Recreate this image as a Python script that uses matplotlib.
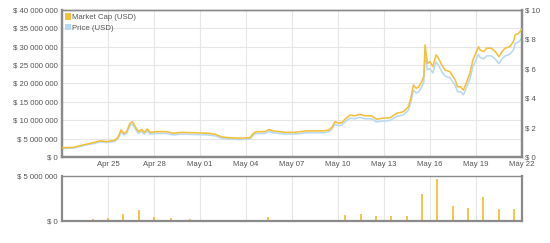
import numpy as np
import matplotlib
matplotlib.use("Agg")
import matplotlib.pyplot as plt
import matplotlib.dates as mdates
from matplotlib.patches import Patch
from matplotlib.ticker import FuncFormatter

plt.rcParams['font.family'] = ['Liberation Sans', 'DejaVu Sans']

START = np.datetime64('2014-04-22T00:00')

# days since Apr 22 00:00
days = [0, 0.74, 1.39, 2.04, 2.48, 2.9, 3.46, 3.67, 3.85, 4.04, 4.22, 4.43, 4.6, 4.76,
        4.98, 5.2, 5.35, 5.57, 5.74, 6.18, 6.83, 7.26, 7.8, 8.68, 9.55, 9.98, 10.4, 10.85,
        11.6, 12.26, 12.48, 12.7, 13.24, 13.5, 13.78, 14.55, 15.2, 15.96, 17.05, 17.37,
        17.6, 17.8, 18.03, 18.24, 18.46, 18.79, 19.1, 19.4, 19.77, 20.2, 20.5, 20.85, 21.4,
        21.83, 22.26, 22.6, 22.75, 22.92, 23.1, 23.25, 23.46, 23.6, 23.68, 23.83, 24.0,
        24.18, 24.4, 24.55, 24.77, 24.98, 25.3, 25.64, 25.8, 26.0, 26.18, 26.4, 26.6, 26.8,
        27.16, 27.27, 27.5, 27.7, 28.0, 28.25, 28.5, 28.7, 28.9, 29.2, 29.45, 29.55, 29.8,
        29.95, 30.0]

# market cap, millions USD
market_cap = [2.55, 2.6, 3.3, 3.9, 4.4, 4.2, 4.6, 5.5, 7.35, 6.45, 6.9, 9.2, 9.6, 8.4,
              6.9, 7.5, 6.7, 7.6, 6.7, 6.9, 6.9, 6.45, 6.7, 6.6, 6.45, 6.2, 5.5, 5.25,
              5.1, 5.25, 6.45, 6.9, 6.9, 7.5, 7.1, 6.7, 6.7, 7.1, 7.1, 7.3,
              8.1, 9.6, 9.2, 9.3, 10.3, 11.4, 11.2, 11.6, 11.2, 11.2, 10.3, 10.5, 10.7,
              11.9, 12.3, 13.7, 16.0, 19.6, 18.7, 19.0, 20.5, 22.0, 30.5, 25.5, 25.9,
              24.6, 27.8, 26.9, 25.0, 23.7, 23.2, 21.0, 19.1, 19.1, 18.2, 20.5, 22.8, 26.4,
              30.0, 29.1, 28.7, 29.6, 29.6, 28.7, 27.3, 28.7, 29.6, 30.0, 31.4, 33.2, 33.7,
              34.6, 34.8]

# price, USD
price = [0.59, 0.60, 0.77, 0.91, 1.02, 0.98, 1.07, 1.28, 1.71, 1.50, 1.60, 2.14, 2.23, 1.95,
         1.60, 1.74, 1.56, 1.77, 1.56, 1.60, 1.60, 1.50, 1.56, 1.53, 1.50, 1.44, 1.28, 1.22,
         1.19, 1.22, 1.50, 1.60, 1.60, 1.74, 1.65, 1.56, 1.56, 1.65, 1.65, 1.70,
         1.88, 2.23, 2.14, 2.16, 2.39, 2.65, 2.60, 2.70, 2.60, 2.60, 2.39, 2.44, 2.49,
         2.77, 2.86, 3.19, 3.72, 4.56, 4.35, 4.42, 4.77, 5.12, 7.09, 5.93, 6.02,
         5.72, 6.46, 6.25, 5.81, 5.51, 5.39, 4.88, 4.44, 4.44, 4.23, 4.77, 5.30, 6.14,
         6.98, 6.77, 6.67, 6.88, 6.88, 6.67, 6.35, 6.67, 6.88, 6.98, 7.30, 7.72, 7.84,
         8.04, 8.09]

# daily volume, millions USD
vol_days = [1, 2, 3, 4, 5, 6, 7.1, 8.35, 9.43, 10.43, 11.43, 12.43, 13.43, 14.43, 15.43,
            16.43, 17.43, 18.48, 19.48, 20.48, 21.48, 22.48, 23.48, 24.48, 25.48, 26.48,
            27.48, 28.48, 29.48]
volume = [0.1, 0.22, 0.37, 0.8, 1.2, 0.48, 0.3, 0.18, 0.07, 0.15, 0.1, 0.1, 0.45, 0.07,
          0.07, 0.1, 0.07, 0.67, 0.78, 0.55, 0.55, 0.55, 3.0, 4.67, 1.7, 1.45, 2.67, 1.37, 1.33]

tick_dates = ['2014-04-25', '2014-04-28', '2014-05-01', '2014-05-04', '2014-05-07',
              '2014-05-10', '2014-05-13', '2014-05-16', '2014-05-19', '2014-05-22']


def to_dates(d):
    return START + (np.array(d) * 24 * 60).astype(int).astype('timedelta64[m]')


ORANGE = '#f2c03c'
BLUE = '#b9d9f2'
GRID = '#e6e6e6'
SPINE = '#8a8a8a'
TXT = '#555555'
FS = 5.6


def money(v, pos):
    return '$ ' + f'{v:,.0f}'.replace(',', ' ')


def style(ax):
    for s in ax.spines.values():
        s.set_color(SPINE)
        s.set_linewidth(1.6)
    ax.spines['top'].set_linewidth(1.0)
    ax.tick_params(length=0, labelsize=FS, labelcolor=TXT, pad=3)


fig = plt.figure(figsize=(5.5, 2.43), dpi=100)
ax = fig.add_axes([62 / 550, 1 - 157 / 243, 460 / 550, 147 / 243])
ax2 = ax.twinx()
axv = fig.add_axes([62 / 550, 1 - 221 / 243, 460 / 550, 45 / 243])

x = to_dates(days)
xlim = (START, START + np.timedelta64(30, 'D'))
ticks = np.array(tick_dates, dtype='datetime64[m]')

ax2.plot(x, price, color=BLUE, lw=1.15, zorder=2)
ax.plot(x, np.array(market_cap) * 1e6, color=ORANGE, lw=1.15, zorder=3)
ax.set_zorder(ax2.get_zorder() + 1)
ax.patch.set_visible(False)

ax.set_ylim(0, 40e6)
ax.set_yticks(np.arange(0, 40e6 + 1, 5e6))
ax.yaxis.set_major_formatter(FuncFormatter(money))
ax2.set_ylim(0, 10)
ax2.set_yticks(np.arange(0, 11, 2))
ax2.yaxis.set_major_formatter(FuncFormatter(money))
for a in (ax, ax2, axv):
    a.set_xlim(xlim)
    a.set_xticks(ticks)
ax.xaxis.set_major_formatter(mdates.DateFormatter('%b %d'))
style(ax)
style(ax2)
ax2.tick_params(pad=2)

# grid drawn on the lower twin so both lines sit above it
for t in ticks:
    ax2.axvline(t, color=GRID, lw=0.8, zorder=0)
for yv in np.arange(0, 40e6, 5e6) / 4e6:
    ax2.axhline(yv, color=GRID, lw=0.8, zorder=0)

ax.legend(handles=[Patch(facecolor=ORANGE, edgecolor='none', label='Market Cap (USD)'),
                   Patch(facecolor=BLUE, edgecolor='none', label='Price (USD)')],
          loc='upper left', frameon=False, fontsize=FS, handlelength=0.7, handleheight=0.9,
          handletextpad=0.2, labelspacing=0.35, borderaxespad=0.3, borderpad=0.1,
          labelcolor=TXT)

axv.vlines(to_dates(vol_days), 0, np.array(volume) * 1e6, color=ORANGE, lw=1.3, zorder=2)
axv.set_ylim(0, 5e6)
axv.set_yticks([0, 5e6])
axv.yaxis.set_major_formatter(FuncFormatter(money))
axv.xaxis.set_ticklabels([])
axv.grid(True, axis='x', color=GRID, lw=0.8, zorder=0)
axv.set_axisbelow(True)
style(axv)

fig.savefig('out.png', dpi=100)
